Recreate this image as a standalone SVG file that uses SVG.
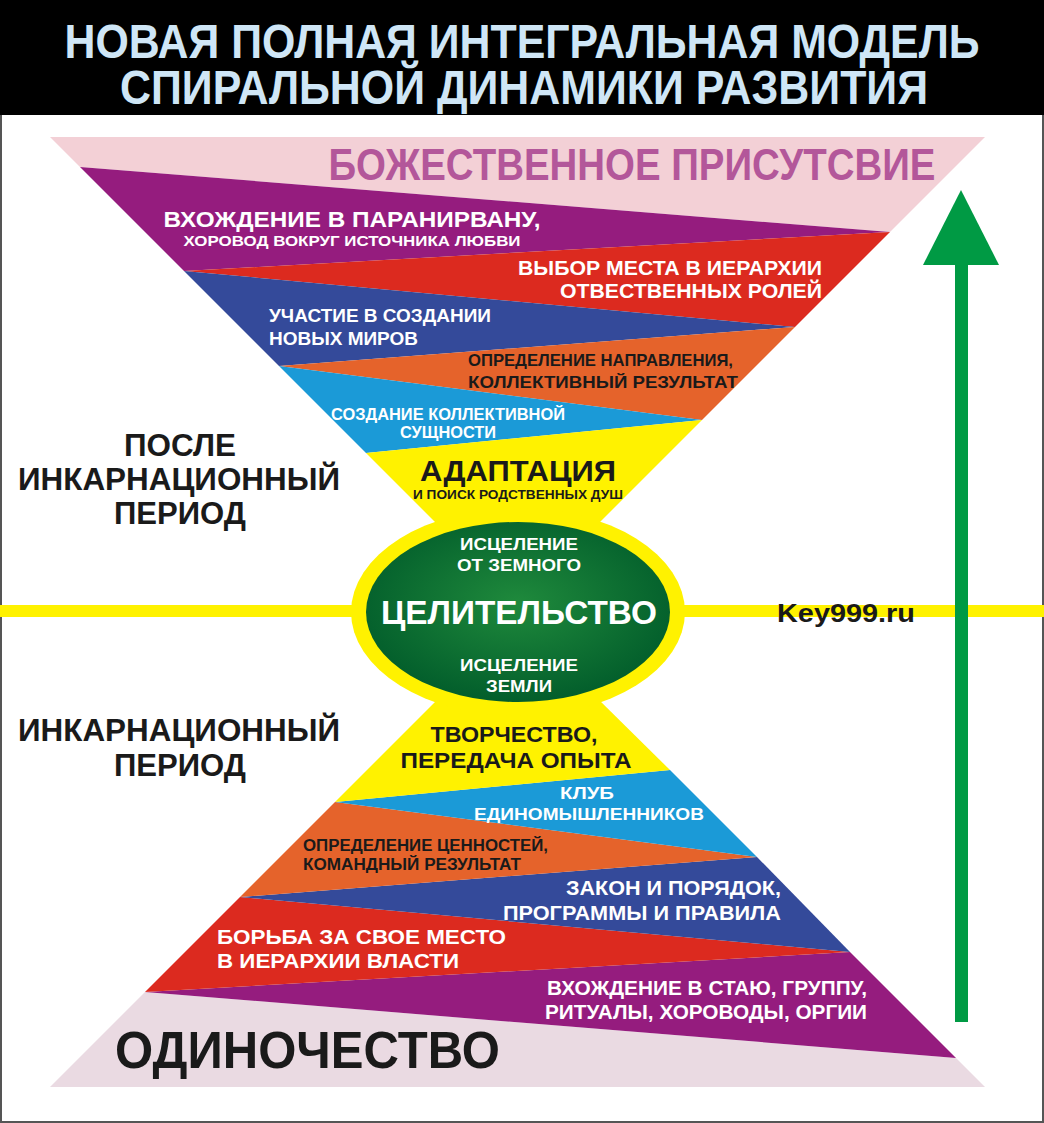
<svg xmlns="http://www.w3.org/2000/svg" width="1044" height="1123" viewBox="0 0 1044 1123">
<defs>
<radialGradient id="gEll" cx="50%" cy="45%" r="60%">
<stop offset="0" stop-color="#1f8a3c"/>
<stop offset="1" stop-color="#005a2a"/>
</radialGradient>
<style>
text{font-family:"Liberation Sans",Arial,sans-serif;font-weight:bold;}
.w{fill:#ffffff}
.k{fill:#1a1a1a}
.t{fill:#cfe6f6}
.c{text-anchor:middle}
.r{text-anchor:end}
</style>
</defs>
<rect x="0" y="0" width="1044" height="1123" fill="#ffffff"/>
<rect x="1" y="1" width="1042" height="1121" fill="none" stroke="#555" stroke-width="2"/>
<g id="header">
<rect x="0" y="0" width="1044" height="115" fill="#000"/>
<text class="t c" transform="translate(522,58) scale(1,1.2)" x="0" y="0" font-size="40" textLength="915" lengthAdjust="spacingAndGlyphs">НОВАЯ ПОЛНАЯ ИНТЕГРАЛЬНАЯ МОДЕЛЬ</text>
<text class="t c" transform="translate(524,104) scale(1,1.2)" x="0" y="0" font-size="40" textLength="808" lengthAdjust="spacingAndGlyphs">СПИРАЛЬНОЙ ДИНАМИКИ РАЗВИТИЯ</text>
</g>
<g id="connectors">
<rect x="0" y="605" width="1044" height="12" fill="#fff200"/>
<rect x="955" y="260" width="13" height="762" fill="#009a44"/>
<polygon points="961,190 923,265 999,265" fill="#009a44"/>
</g>
<g id="top-bands">
<polygon id="top-pink" points="50,137 985,137 890,232 80,167" fill="#f3d0d6"/>
<polygon id="top-purple" points="80,167 890,232 184,271" fill="#951c7e"/>
<polygon id="top-red" points="184,271 890,232 795,327" fill="#dc2a1f"/>
<polygon id="top-blue" points="184,271 795,327 279,366" fill="#344a9a"/>
<polygon id="top-orange" points="279,366 795,327 702,420" fill="#e5632b"/>
<polygon id="top-lightblue" points="279,366 702,420 366,453" fill="#1b9ad7"/>
<polygon id="top-yellow" points="366,453 702,420 517.5,604.5" fill="#fff200"/>
</g>
<g id="bottom-bands">
<polygon id="bot-pink" points="50,1087 985,1087 956,1058 145,992" fill="#eadae2"/>
<polygon id="bot-purple" points="145,992 850,952 956,1058" fill="#951c7e"/>
<polygon id="bot-red" points="145,992 240,897 850,952" fill="#dc2a1f"/>
<polygon id="bot-blue" points="240,897 757,857 850,952" fill="#344a9a"/>
<polygon id="bot-orange" points="240,897 335,802 757,857" fill="#e5632b"/>
<polygon id="bot-lightblue" points="335,802 670,770 757,857" fill="#1b9ad7"/>
<polygon id="bot-yellow" points="335,802 670,770 517.5,619.5" fill="#fff200"/>
</g>
<g id="node-divine">
<text x="632" y="180" class="c" font-size="44" fill="#b3579a" textLength="607" lengthAdjust="spacingAndGlyphs">БОЖЕСТВЕННОЕ ПРИСУТСВИЕ</text>
</g>
<g id="node-paranirvana">
<text x="352" y="227" class="w c" font-size="22" textLength="377" lengthAdjust="spacingAndGlyphs">ВХОЖДЕНИЕ В ПАРАНИРВАНУ,</text>
<text x="352" y="246" class="w c" font-size="15" textLength="337" lengthAdjust="spacingAndGlyphs">ХОРОВОД ВОКРУГ ИСТОЧНИКА ЛЮБВИ</text>
</g>
<g id="node-roles">
<text x="822" y="275" class="w r" font-size="20" textLength="304" lengthAdjust="spacingAndGlyphs">ВЫБОР МЕСТА В ИЕРАРХИИ</text>
<text x="822" y="298" class="w r" font-size="20" textLength="262" lengthAdjust="spacingAndGlyphs">ОТВЕСТВЕННЫХ РОЛЕЙ</text>
</g>
<g id="node-worlds">
<text x="269" y="322" class="w" font-size="19" textLength="222" lengthAdjust="spacingAndGlyphs">УЧАСТИЕ В СОЗДАНИИ</text>
<text x="269" y="345" class="w" font-size="19" textLength="149" lengthAdjust="spacingAndGlyphs">НОВЫХ МИРОВ</text>
</g>
<g id="node-direction">
<text x="468" y="366" class="k" font-size="17" textLength="265" lengthAdjust="spacingAndGlyphs">ОПРЕДЕЛЕНИЕ НАПРАВЛЕНИЯ,</text>
<text x="468" y="388" class="k" font-size="17" textLength="270" lengthAdjust="spacingAndGlyphs">КОЛЛЕКТИВНЫЙ РЕЗУЛЬТАТ</text>
</g>
<g id="node-entity">
<text x="448" y="420" class="w c" font-size="16" textLength="234" lengthAdjust="spacingAndGlyphs">СОЗДАНИЕ КОЛЛЕКТИВНОЙ</text>
<text x="448" y="438" class="w c" font-size="16" textLength="96" lengthAdjust="spacingAndGlyphs">СУЩНОСТИ</text>
</g>
<g id="node-adaptation">
<text x="518" y="481" class="k c" font-size="29" textLength="196" lengthAdjust="spacingAndGlyphs">АДАПТАЦИЯ</text>
<text x="518" y="499" class="k c" font-size="13" textLength="210" lengthAdjust="spacingAndGlyphs">И ПОИСК РОДСТВЕННЫХ ДУШ</text>
</g>
<g id="node-healing">
<ellipse cx="518" cy="612" rx="167" ry="104" fill="#fff200"/>
<ellipse cx="518" cy="612" rx="152" ry="90" fill="url(#gEll)"/>
<text x="519" y="550" class="w c" font-size="17" textLength="118" lengthAdjust="spacingAndGlyphs">ИСЦЕЛЕНИЕ</text>
<text x="519" y="571" class="w c" font-size="17" textLength="124" lengthAdjust="spacingAndGlyphs">ОТ ЗЕМНОГО</text>
<text x="519" y="624" class="w c" font-size="33" textLength="276" lengthAdjust="spacingAndGlyphs">ЦЕЛИТЕЛЬСТВО</text>
<text x="519" y="671" class="w c" font-size="17" textLength="118" lengthAdjust="spacingAndGlyphs">ИСЦЕЛЕНИЕ</text>
<text x="519" y="692" class="w c" font-size="17" textLength="66" lengthAdjust="spacingAndGlyphs">ЗЕМЛИ</text>
</g>
<g id="node-site">
<text x="777" y="622" class="k" font-size="25" textLength="138" lengthAdjust="spacingAndGlyphs">Key999.ru</text>
</g>
<g id="node-post-period">
<text x="180" y="456" class="k c" font-size="31" textLength="112" lengthAdjust="spacingAndGlyphs">ПОСЛЕ</text>
<text x="179" y="490" class="k c" font-size="31" textLength="322" lengthAdjust="spacingAndGlyphs">ИНКАРНАЦИОННЫЙ</text>
<text x="180" y="524" class="k c" font-size="31" textLength="132" lengthAdjust="spacingAndGlyphs">ПЕРИОД</text>
</g>
<g id="node-period">
<text x="179" y="741" class="k c" font-size="31" textLength="322" lengthAdjust="spacingAndGlyphs">ИНКАРНАЦИОННЫЙ</text>
<text x="180" y="776" class="k c" font-size="31" textLength="132" lengthAdjust="spacingAndGlyphs">ПЕРИОД</text>
</g>
<g id="node-creativity">
<text x="514" y="742" class="k c" font-size="22" textLength="167" lengthAdjust="spacingAndGlyphs">ТВОРЧЕСТВО,</text>
<text x="516" y="768" class="k c" font-size="22" textLength="231" lengthAdjust="spacingAndGlyphs">ПЕРЕДАЧА ОПЫТА</text>
</g>
<g id="node-club">
<text x="587" y="799" class="w c" font-size="17" textLength="54" lengthAdjust="spacingAndGlyphs">КЛУБ</text>
<text x="589" y="820" class="w c" font-size="17" textLength="230" lengthAdjust="spacingAndGlyphs">ЕДИНОМЫШЛЕННИКОВ</text>
</g>
<g id="node-values">
<text x="303" y="851" class="k" font-size="16" textLength="245" lengthAdjust="spacingAndGlyphs">ОПРЕДЕЛЕНИЕ ЦЕННОСТЕЙ,</text>
<text x="303" y="870" class="k" font-size="16" textLength="218" lengthAdjust="spacingAndGlyphs">КОМАНДНЫЙ РЕЗУЛЬТАТ</text>
</g>
<g id="node-law">
<text x="781" y="895" class="w r" font-size="20" textLength="215" lengthAdjust="spacingAndGlyphs">ЗАКОН И ПОРЯДОК,</text>
<text x="781" y="920" class="w r" font-size="20" textLength="278" lengthAdjust="spacingAndGlyphs">ПРОГРАММЫ И ПРАВИЛА</text>
</g>
<g id="node-power">
<text x="217" y="944" class="w" font-size="20" textLength="289" lengthAdjust="spacingAndGlyphs">БОРЬБА ЗА СВОЕ МЕСТО</text>
<text x="217" y="968" class="w" font-size="20" textLength="242" lengthAdjust="spacingAndGlyphs">В ИЕРАРХИИ ВЛАСТИ</text>
</g>
<g id="node-pack">
<text x="867" y="995" class="w r" font-size="20" textLength="320" lengthAdjust="spacingAndGlyphs">ВХОЖДЕНИЕ В СТАЮ, ГРУППУ,</text>
<text x="867" y="1019" class="w r" font-size="20" textLength="322" lengthAdjust="spacingAndGlyphs">РИТУАЛЫ, ХОРОВОДЫ, ОРГИИ</text>
</g>
<g id="node-loneliness">
<text x="115" y="1068" class="k" font-size="51" textLength="385" lengthAdjust="spacingAndGlyphs">ОДИНОЧЕСТВО</text>
</g>
</svg>
